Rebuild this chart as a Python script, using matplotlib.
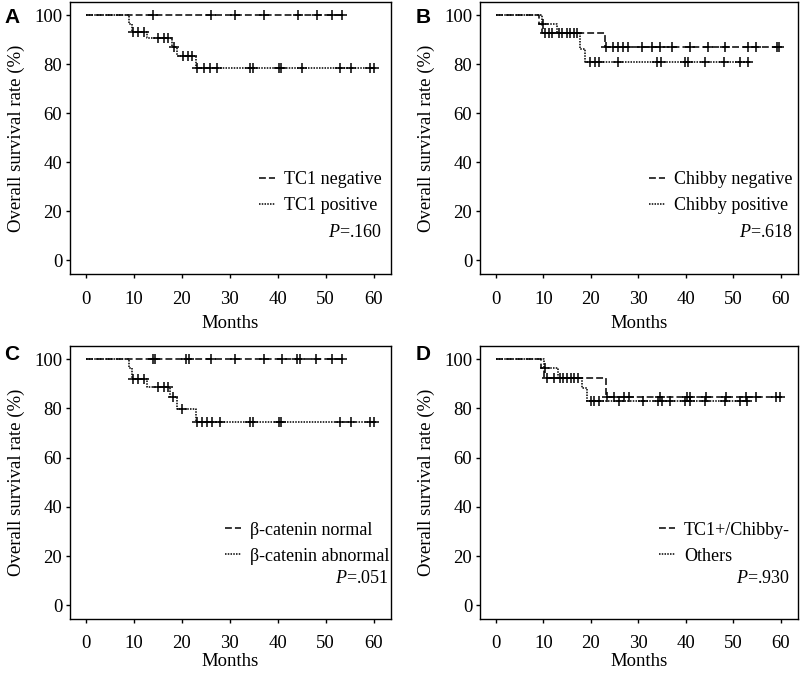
#!/usr/bin/env python3
# Kaplan-Meier overall survival curves, four panels (A-D)
import numpy as np
import matplotlib
matplotlib.use("Agg")
import matplotlib.pyplot as plt
from matplotlib.lines import Line2D

# ---------------------------------------------------------------------
# data: step times (months), survival (%), end of
# follow-up and censoring times for every group
# panel A: TC1
a_neg_t = [0]
a_neg_s = [100]
a_neg_end = 53.7
a_neg_cens = [13.9, 26.0, 31.0, 37.1, 44.2, 48.3, 51.4, 53.4]
a_pos_t = [0, 9.0, 9.6, 12.8, 17.9, 19.0, 23.0]
a_pos_s = [100, 96.6, 93.2, 90.5, 87.1, 83.3, 78.6]
a_pos_end = 60.5
a_pos_cens = [9.9, 10.9, 12.0, 15.1, 16.2, 17.0, 18.3, 20.2, 21.2, 22.2,
              23.2, 24.6, 25.8, 27.3, 34.3, 34.9, 40.2, 40.7, 45.1, 53.1,
              55.2, 59.3, 60.1]

# panel B: Chibby
b_neg_t = [0, 9.0, 9.7, 23.0]
b_neg_s = [100, 96.3, 92.9, 87.1]
b_neg_end = 60.3
b_neg_cens = [10.3, 11.1, 11.9, 15.7, 17.0, 23.2, 24.7, 25.8, 26.8, 27.9,
              30.7, 32.8, 34.5, 37.0, 40.8, 44.7, 48.2, 53.1, 54.8, 59.2,
              59.7]
b_pos_t = [0, 9.7, 12.9, 17.8, 18.8]
b_pos_s = [100, 96.3, 92.9, 86.0, 80.7]
b_pos_end = 53.6
b_pos_cens = [9.9, 13.2, 14.0, 14.9, 16.4, 19.9, 20.8, 21.6, 25.8, 34.0,
              34.7, 39.8, 40.5, 44.0, 48.0, 51.3, 53.0]

# panel C: beta-catenin
c_neg_t = [0]
c_neg_s = [100]
c_neg_end = 53.7
c_neg_cens = [13.9, 14.4, 20.9, 21.4, 26.1, 31.0, 37.1, 40.9, 44.1, 44.6,
              47.9, 51.4, 53.4]
c_pos_t = [0, 9.0, 9.6, 12.8, 17.6, 19.0, 23.0]
c_pos_s = [100, 96.6, 91.9, 88.9, 84.8, 79.8, 74.6]
c_pos_end = 60.5
c_pos_cens = [9.9, 10.9, 12.0, 15.1, 16.2, 17.0, 18.1, 20.0, 23.2, 24.3,
              25.3, 26.3, 27.9, 34.2, 34.9, 40.2, 40.7, 53.1, 55.2, 59.3,
              60.1]

# panel D: TC1+/Chibby- vs others
d_neg_t = [0, 9.5, 10.1, 23.1]
d_neg_s = [100, 96.6, 92.2, 84.7]
d_neg_end = 60.3
d_neg_cens = [10.8, 12.3, 14.1, 15.8, 17.2, 23.3, 24.8, 26.9, 28.0, 34.6,
              40.2, 40.9, 44.3, 48.5, 52.7, 54.8, 59.0, 59.8]
d_pos_t = [0, 10.1, 13.0, 18.2, 19.1]
d_pos_s = [100, 96.6, 92.2, 88.2, 82.9]
d_pos_end = 53.4
d_pos_cens = [10.3, 13.4, 15.0, 16.5, 20.0, 20.7, 21.7, 25.9, 31.0, 34.2,
              34.9, 36.7, 39.8, 40.9, 44.0, 48.2, 51.3, 52.8]

labels_a = ["TC1 negative", "TC1 positive"]
labels_b = ["Chibby negative", "Chibby positive"]
labels_c = ["\u03b2-catenin normal", "\u03b2-catenin abnormal"]
labels_d = ["TC1+/Chibby-", "Others"]
p_values = [".160", ".618", ".051", ".930"]
panel_letters = ["A", "B", "C", "D"]

x_ticks = [0, 10, 20, 30, 40, 50, 60]
y_ticks = [0, 20, 40, 60, 80, 100]

# ---------------------------------------------------------------------
plt.rcParams.update({
    "font.family": ["Liberation Serif", "DejaVu Serif"],
    "font.size": 13.5,
    "mathtext.fontset": "custom",
    "mathtext.rm": "Liberation Serif",
    "mathtext.it": "Liberation Serif:italic",
})

DASHED = (0, (4.5, 2.0))
DOTTED = (0, (1.0, 0.8))


def km_curve(ax, t, s, end, cens, ls):
    x = list(t) + [end]
    y = list(s) + [s[-1]]
    ax.step(x, y, where="post", color="black", lw=1.1, ls=ls)
    idx = np.searchsorted(t, cens, side="right") - 1
    ax.plot(cens, np.array(s)[idx], ls="none", marker="+", ms=7.5,
            mew=1.1, color="black")


def style_axes(ax, xpad, labpad):
    ax.set_xlim(-3.35, 63.6)
    ax.set_ylim(-5.7, 105.4)
    ax.set_xticks(x_ticks)
    ax.set_yticks(y_ticks)
    ax.tick_params(direction="out", length=3, width=1.0)
    ax.tick_params(axis="x", pad=xpad)
    ax.tick_params(axis="y", pad=2.5)
    for sp in ax.spines.values():
        sp.set_linewidth(1.0)
    ax.set_xlabel("Months", labelpad=labpad)
    ax.set_ylabel("Overall survival rate (%)", labelpad=7)


fig = plt.figure(figsize=(8.0, 6.74), dpi=100)

# axes boxes in figure fractions
boxes = [
    [0.0875, 0.5935, 0.401, 0.4036],
    [0.600, 0.5935, 0.3975, 0.4036],
    [0.0875, 0.0812, 0.401, 0.4055],
    [0.600, 0.0812, 0.3975, 0.4055],
]

curves = [
    ((a_neg_t, a_neg_s, a_neg_end, a_neg_cens),
     (a_pos_t, a_pos_s, a_pos_end, a_pos_cens), labels_a),
    ((b_neg_t, b_neg_s, b_neg_end, b_neg_cens),
     (b_pos_t, b_pos_s, b_pos_end, b_pos_cens), labels_b),
    ((c_neg_t, c_neg_s, c_neg_end, c_neg_cens),
     (c_pos_t, c_pos_s, c_pos_end, c_pos_cens), labels_c),
    ((d_neg_t, d_neg_s, d_neg_end, d_neg_cens),
     (d_pos_t, d_pos_s, d_pos_end, d_pos_cens), labels_d),
]

leg_x = [0.972, 0.984, 0.995, 0.975]
leg_y = [0.22, 0.22, 0.20, 0.20]
p_y = [0.154, 0.154, 0.151, 0.151]
x_pad = [9, 9, 8, 8]
lab_pad = [5, 5, 1, 1]
letter_pos = [(0.005, 0.988), (0.52, 0.988), (0.005, 0.488), (0.52, 0.488)]

for i in range(4):
    ax = fig.add_axes(boxes[i])
    neg, pos, labs = curves[i]
    km_curve(ax, *neg, DASHED)
    km_curve(ax, *pos, DOTTED)
    style_axes(ax, x_pad[i], lab_pad[i])

    handles = [Line2D([], [], color="black", lw=1.1, ls=DASHED),
               Line2D([], [], color="black", lw=1.1, ls=DOTTED)]
    ax.legend(handles, labs, loc="lower right",
              bbox_to_anchor=(leg_x[i], leg_y[i]), frameon=False,
              borderpad=0, borderaxespad=0, handlelength=0.9,
              handletextpad=0.5, labelspacing=0.5, fontsize=13)
    ax.text(leg_x[i], p_y[i], "$P$=" + p_values[i], ha="right",
            va="center", fontsize=13, transform=ax.transAxes)

    fig.text(letter_pos[i][0], letter_pos[i][1], panel_letters[i],
             family="Liberation Sans", weight="bold", fontsize=15,
             ha="left", va="top")

fig.savefig("out.png", dpi=100)
plt.close(fig)
